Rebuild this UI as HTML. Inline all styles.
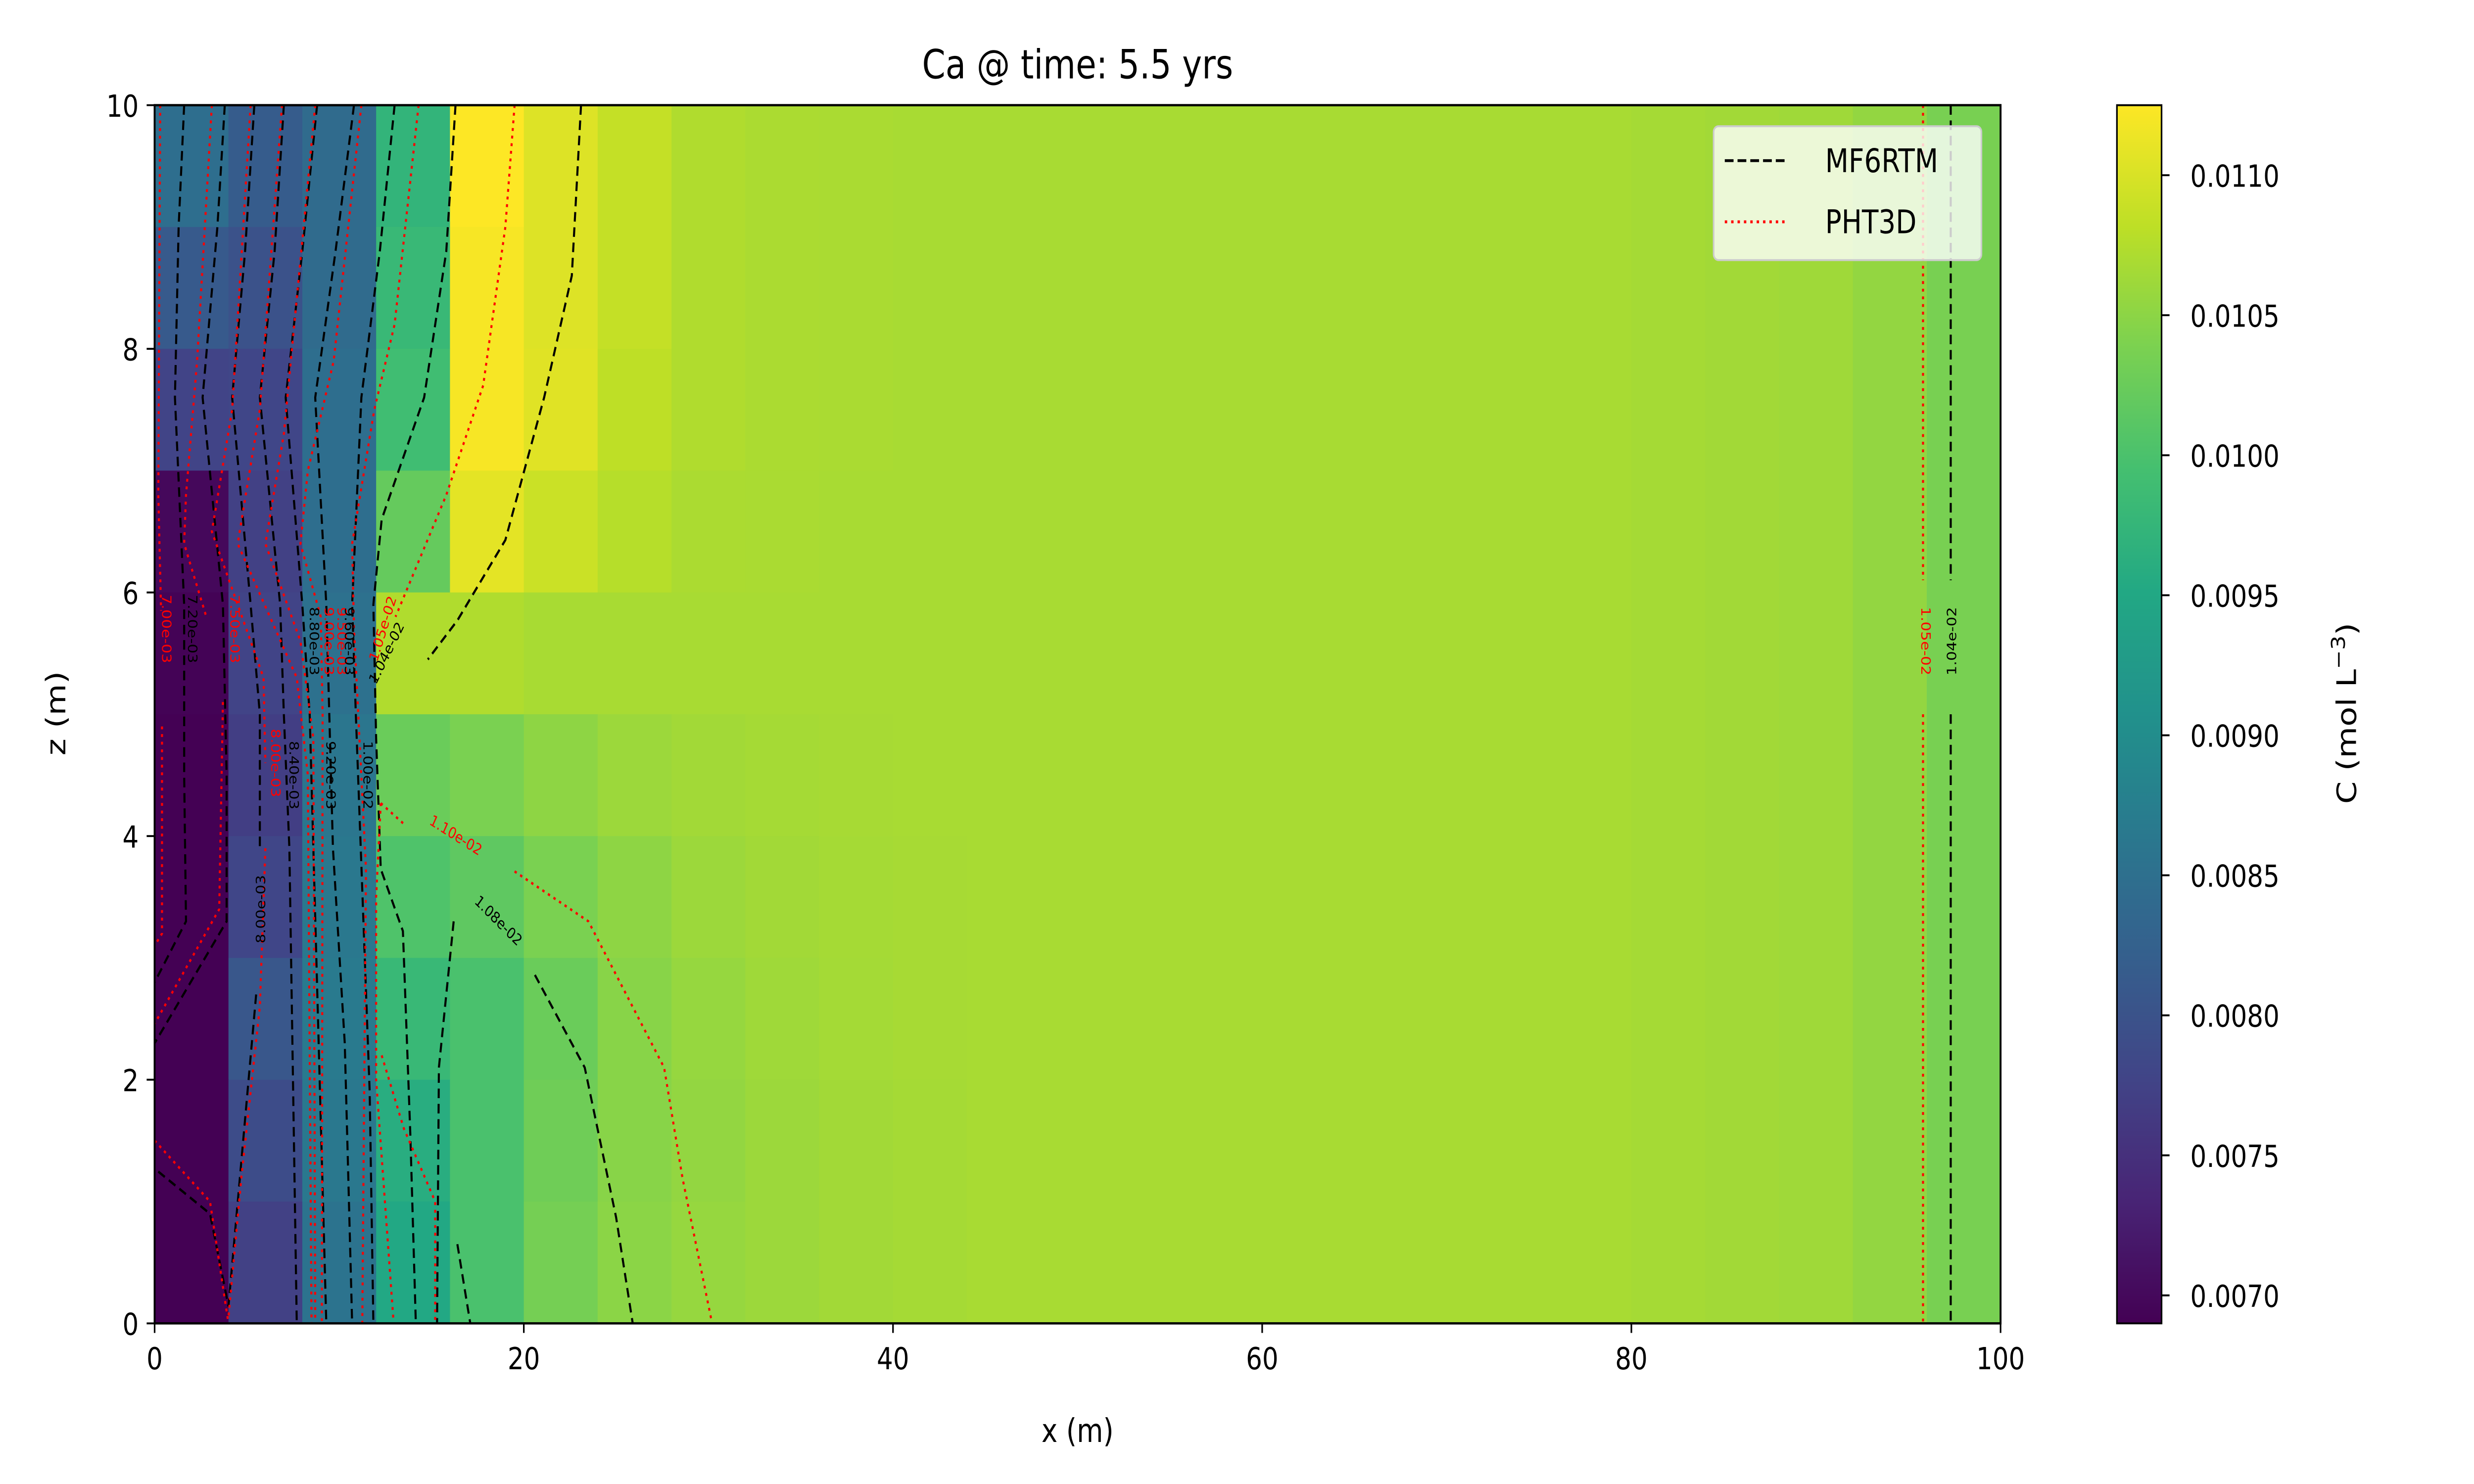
<!DOCTYPE html>
<html><head><meta charset="utf-8">
<style>
html,body{margin:0;padding:0;background:#fff;width:100vw;height:100vh;overflow:hidden;}
svg{display:block;font-family:"DejaVu Sans","Liberation Sans",sans-serif;width:100vw;height:100vh;position:fixed;left:0;top:0;}
</style></head>
<body>
<svg id="chart" viewBox="0 0 1552 776" preserveAspectRatio="none" xmlns="http://www.w3.org/2000/svg">
<g id="cells"></g>
<g id="contours"></g>
<g id="clabels"></g>
<rect x="97" y="55" width="1158" height="637" fill="none" stroke="#000" stroke-width="1.2"/>
<g id="axes"></g>
<text x="676" y="41" text-anchor="middle" font-size="21">Ca @ time: 5.5 yrs</text>
<text x="676" y="754" text-anchor="middle" font-size="17">x (m)</text>
<text x="0" y="0" transform="translate(41,373) rotate(-90)" text-anchor="middle" font-size="17">z (m)</text>
<g>
<rect x="1075" y="66" width="168" height="70" rx="3" fill="#fff" fill-opacity="0.8" stroke="#ccc" stroke-width="1"/>
<line x1="1082" y1="84" x2="1122" y2="84" stroke="#000" stroke-width="1.5" stroke-dasharray="5.5,2.5"/>
<text x="1145" y="90" font-size="17">MF6RTM</text>
<line x1="1082" y1="116" x2="1122" y2="116" stroke="#f00" stroke-width="1.5" stroke-dasharray="1.5,2.5"/>
<text x="1145" y="122" font-size="17">PHT3D</text>
</g>
<defs><linearGradient id="vgrad" x1="0" y1="1" x2="0" y2="0"></linearGradient></defs>
<rect x="1328" y="55" width="28" height="637" fill="url(#vgrad)" stroke="#000" stroke-width="1"/>
<g id="cbticks"></g>
<text x="0" y="0" transform="translate(1478,373) rotate(-90)" text-anchor="middle" font-size="17">C (mol L<tspan dy="-7" font-size="12">−3</tspan><tspan dy="7">)</tspan></text>
</svg>
<script>
const NS='http://www.w3.org/2000/svg';
const vmin=0.00690, vmax=0.01125;
const xTicks=[0,20,40,60,80,100];
const zTicks=[0,2,4,6,8,10];
const cbTicks=[0.0070,0.0075,0.0080,0.0085,0.0090,0.0095,0.0100,0.0105,0.0110];
const cbTickLabels=['0.0070','0.0075','0.0080','0.0085','0.0090','0.0095','0.0100','0.0105','0.0110'];
const cellWidth=4, cellHeight=1;
const row9=[.00847,.00816,.00842,.00973,.01125,.01103,.01086,.01073,.01070,.01069,.01068,.01068,.01068,.01068,.01068,.01068,.01068,.01068,.01068,.01068,.01066,.01064,.01062,.01054,.01036];
const row8=[.00812,.00799,.00842,.00981,.01121,.01103,.01086,.01073,.01070,.01069,.01068,.01068,.01068,.01068,.01068,.01068,.01068,.01068,.01068,.01068,.01066,.01064,.01062,.01054,.01036];
const row7=[.00777,.00781,.00847,.00990,.01121,.01105,.01082,.01073,.01070,.01069,.01068,.01068,.01068,.01068,.01068,.01068,.01068,.01068,.01068,.01068,.01066,.01064,.01062,.01054,.01036];
const row6=[.00699,.00773,.00847,.01021,.01108,.01090,.01077,.01070,.01069,.01068,.01068,.01068,.01068,.01068,.01068,.01068,.01068,.01068,.01068,.01068,.01066,.01064,.01062,.01054,.01036];
const row5=[.00692,.00777,.00851,.01073,.01073,.01068,.01068,.01068,.01068,.01068,.01068,.01068,.01068,.01068,.01068,.01068,.01068,.01068,.01068,.01068,.01066,.01064,.01062,.01054,.01036];
const row4=[.00690,.00769,.00860,.01025,.01038,.01051,.01060,.01064,.01066,.01067,.01068,.01068,.01068,.01068,.01068,.01068,.01068,.01068,.01068,.01068,.01066,.01064,.01062,.01054,.01036];
const row3=[.00690,.00781,.00864,.01003,.01016,.01038,.01051,.01060,.01064,.01066,.01067,.01068,.01068,.01068,.01068,.01068,.01068,.01068,.01068,.01068,.01066,.01064,.01062,.01054,.01036];
const row2=[.00690,.00807,.00868,.00981,.00999,.01025,.01047,.01056,.01062,.01065,.01067,.01068,.01068,.01068,.01068,.01068,.01068,.01068,.01068,.01068,.01066,.01064,.01062,.01054,.01036];
const row1=[.00690,.00790,.00864,.00960,.00999,.01029,.01047,.01054,.01060,.01064,.01066,.01068,.01068,.01068,.01068,.01068,.01068,.01068,.01068,.01068,.01066,.01064,.01062,.01054,.01036];
const row0=[.00690,.00773,.00856,.00951,.00999,.01034,.01049,.01056,.01060,.01064,.01066,.01068,.01068,.01068,.01068,.01068,.01068,.01068,.01068,.01068,.01066,.01064,.01062,.01054,.01036];
const gridRows=[row9,row8,row7,row6,row5,row4,row3,row2,row1,row0];
const mfLines=[
 [[1.6,10],[1.3,9],[1.1,7.6],[1.6,5.9],[1.6,4.5],[1.7,3.3],[0,2.8]],
 [[3.8,10],[3.4,9],[2.6,7.6],[3.7,5.9],[3.9,4.5],[3.9,3.3],[0,2.3]],
 [[5.4,10],[4.9,8.8],[4.2,7.6],[5.2,5.9],[5.7,5.0],[5.7,3.9]],
 [[5.5,2.7],[4.0,0.14],[3.0,0.9],[0,1.27]],
 [[7.0,10],[6.5,8.8],[5.7,7.6],[6.8,5.9],[7.0,5.0],[7.3,3.9],[7.7,0]],
 [[8.8,10],[8.0,8.8],[7.1,7.6],[8.0,5.9],[8.4,5.0],[8.76,3.0],[9.3,0]],
 [[10.8,10],[9.8,8.8],[8.7,7.6],[9.3,5.9],[9.66,3.9],[10.3,2.3],[10.7,0]],
 [[13.0,10],[12.2,8.8],[11.2,7.6],[10.7,5.9],[10.9,5.0],[11.65,1.9],[11.85,0]],
 [[16.3,10],[15.8,8.8],[14.6,7.6],[12.3,6.6],[11.85,5.9],[12.0,4.8],[12.25,3.73],[13.45,3.22],[13.85,1.56],[14.15,0]],
 [[23.1,10],[22.6,8.6],[21.1,7.6],[19.0,6.43],[16.4,5.77],[14.8,5.45]],
 [[16.2,3.3],[15.4,2.1],[15.3,0]],
 [[16.4,0.65],[17.1,0]],
 [[20.6,2.86],[23.3,2.1],[25.0,0.87],[25.9,0]],
 [[97.3,10],[97.3,6.1]],[[97.3,5.0],[97.3,0]]
];
const phtLines=[
 [[0.3,10],[0.2,6.8],[0.35,5.85]],[[0.4,4.9],[0.4,3.2],[0,3.1]],
 [[0,1.5],[3.0,1.0],[4.0,0]],
 [[3.1,10],[2.3,7.9],[1.7,6.8],[1.6,6.4],[2.8,5.8]],[[3.7,5.1],[3.5,3.4],[0,2.46]],
 [[5.2,10],[4.2,7.5],[3.1,6.5],[5.9,5.3],[6.0,4.6]],[[6.0,3.9],[5.7,2.6],[4.7,1.2],[4.0,0.05]],
 [[6.9,10],[5.7,7.5],[4.5,6.4],[7.7,5.3],[8.3,4.5],[8.5,0]],
 [[8.7,10],[7.0,7.3],[6.0,6.4],[7.9,5.6],[8.6,4.8],[8.7,0]],
 [[11.2,10],[9.7,7.9],[8.3,7.0],[7.9,6.4],[9.0,5.8],[9.1,5.0],[9.06,0]],
 [[14.3,10],[13.0,8.2],[11.9,7.5],[10.7,6.4],[10.8,5.7],[11.45,3.73],[11.25,0]],
 [[19.5,10],[19.0,9.0],[17.8,7.7],[15.8,6.8],[13.05,5.8]],
 [[12.25,4.27],[13.5,4.1]],[[19.5,3.71],[23.5,3.3],[27.6,2.1],[28.6,1.19],[30.2,0]],
 [[12.25,4.27],[12.0,3.5],[12.0,2.0],[12.95,0]],
 [[12.3,2.2],[13.5,1.6],[15.2,1.0],[15.2,0]],
 [[95.8,10],[95.8,6.1]],[[95.8,5.0],[95.8,0]]
];
const labelText=['7.00e-03','7.20e-03','7.50e-03','8.80e-03','9.00e-03','9.50e-03','9.60e-03','1.05e-02','1.04e-02','8.00e-03','8.40e-03','9.20e-03','1.00e-02','8.00e-03','1.10e-02','1.08e-02','1.05e-02','1.04e-02'];
const labelX=[0.6,2.0,4.3,8.6,9.4,10.1,10.5,12.4,12.6,6.5,7.5,9.5,11.5,5.8,16.3,18.6,95.9,97.4];
const labelZ=[5.7,5.7,5.7,5.6,5.6,5.6,5.6,5.7,5.5,4.6,4.5,4.5,4.5,3.4,4.0,3.3,5.6,5.6];
const labelRot=[90,90,90,90,90,90,90,-70,-60,90,90,90,90,-90,28,40,90,-90];
const labelRed=[1,0,1,0,1,1,0,1,0,1,0,0,0,0,1,0,1,0];

const xPx=x=>97+x*11.58, zPx=z=>692-z*63.7;
const vir=[[68,1,84],[72,36,117],[65,68,135],[53,95,141],[42,120,142],[33,145,140],[34,168,132],[68,191,112],[122,209,81],[189,223,38],[253,231,37]];
function cmap(v){let t=(v-vmin)/(vmax-vmin);t=Math.max(0,Math.min(1,t));const s=t*10,i=Math.min(9,Math.floor(s)),f=s-i;const a=vir[i],b=vir[i+1];return 'rgb('+a.map((c,k)=>Math.round(c+(b[k]-c)*f)).join(',')+')';}
function mk(tag,attrs,parent){const e=document.createElementNS(NS,tag);for(const k in attrs)e.setAttribute(k,attrs[k]);parent.appendChild(e);return e;}

const cells=document.getElementById('cells');
gridRows.forEach((row,ri)=>{const zTop=10-ri*cellHeight;row.forEach((v,ci)=>{
 const x0=ci*cellWidth;
 const r=mk('rect',{x:xPx(x0),y:zPx(zTop),width:xPx(x0+cellWidth)-xPx(x0)+0.3,height:zPx(zTop-cellHeight)-zPx(zTop)+0.3,fill:cmap(v)},cells);
 
 
});});

const cg=document.getElementById('contours');
function drawLines(lines,color,dash,name){lines.forEach(pts=>{
 const p=mk('polyline',{points:pts.map(q=>xPx(q[0])+','+zPx(q[1])).join(' '),fill:'none',stroke:color,'stroke-width':1.3,'stroke-dasharray':dash},cg);
 
 
});}
drawLines(mfLines,'#000','5,3','mf6rtm-contour');
drawLines(phtLines,'#f00','1.5,2.5','pht3d-contour');

const lg=document.getElementById('clabels');
labelText.forEach((t,i)=>{const x=xPx(labelX[i]),y=zPx(labelZ[i]);
 const e=mk('text',{x:0,y:0,transform:'translate('+x+','+y+') rotate('+labelRot[i]+')','text-anchor':'middle','dominant-baseline':'middle','font-size':8,fill:labelRed[i]?'#f00':'#000'},lg);
 e.textContent=t;
 
 
});

const ax=document.getElementById('axes');
xTicks.forEach(v=>{const x=xPx(v);
 const l=mk('line',{x1:x,y1:692,x2:x,y2:697,stroke:'#000','stroke-width':1},ax);
 
 
 const t=mk('text',{x:x,y:716,'text-anchor':'middle','font-size':16},ax);t.textContent=v;
 
 
});
zTicks.forEach(v=>{const y=zPx(v);
 const l=mk('line',{x1:92,y1:y,x2:97,y2:y,stroke:'#000','stroke-width':1},ax);
 
 
 const t=mk('text',{x:87,y:y+6,'text-anchor':'end','font-size':16},ax);t.textContent=v;
 
 
});

const grad=document.getElementById('vgrad');
for(let i=0;i<=20;i++){const v=vmin+(vmax-vmin)*i/20;mk('stop',{offset:(i*5)+'%','stop-color':cmap(v)},grad);}
const cb=document.getElementById('cbticks');
cbTicks.forEach((v,i)=>{const y=692-(v-vmin)/(vmax-vmin)*637;
 const l=mk('line',{x1:1356,y1:y,x2:1361,y2:y,stroke:'#000','stroke-width':1},cb);
 
 
 const t=mk('text',{x:1374,y:y+6,'font-size':16},cb);t.textContent=cbTickLabels[i];
 
 
});
</script>
</body></html>
